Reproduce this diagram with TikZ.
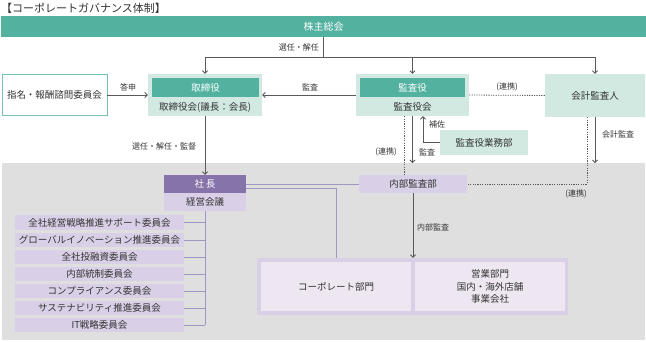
\documentclass[tikz,border=0pt]{standalone}
\usepackage{fontspec}
\setmainfont{Noto Sans CJK JP}
\usetikzlibrary{arrows.meta}
\definecolor{tealA}{HTML}{52B19F}
\definecolor{tealL}{HTML}{D1E9E1}
\definecolor{purA}{HTML}{8573A9}
\definecolor{purL}{HTML}{D9CFE6}
\definecolor{purVL}{HTML}{EEE7F2}
\definecolor{grayBG}{HTML}{DFDFDF}
\definecolor{tc}{HTML}{333333}
\definecolor{lc}{HTML}{595959}
\definecolor{lavc}{HTML}{A196C2}
\begin{document}
\begin{tikzpicture}[x=1pt,y=-1pt,
  lab/.style={text=tc, font=\fontsize{8}{8}\selectfont, inner sep=0pt},
  bx/.style={inner sep=0pt, text=tc, font=\fontsize{9.5}{12}\selectfont, align=center},
  ln/.style={draw=lc, line width=0.8pt},
  arr/.style={ln, -{Straight Barb[length=2.5pt,width=5pt]}},
  dt/.style={draw=lc, line width=0.8pt, dash pattern=on 1.2pt off 1.2pt},
  lav/.style={draw=lavc, line width=1pt},
]
\useasboundingbox (0,0) rectangle (646,341);
\fill[white] (0,0) rectangle (646,341);
% gray background area
\fill[grayBG] (2,163) rectangle (645,340);

% title
\node[anchor=west, inner sep=0pt, text=tc, font=\fontsize{11}{11}\selectfont] (title) at (1,8) {【コーポレートガバナンス体制】};

% top bar
\node[bx, fill=tealA, text=white, font=\fontsize{10}{12}\selectfont, minimum width=645pt, minimum height=21pt] (sh) at (323.5,26.5) {株主総会};

% left advisory committee
\node[bx, fill=white, draw=tealA!80, line width=0.8pt, minimum width=105pt, minimum height=41pt] (nom) at (54.5,95) {指名・報酬諮問委員会};

% board of directors
\node[bx, fill=tealL, minimum width=114pt, minimum height=42pt] (torio) at (205,95) {};
\node[bx, fill=tealA, text=white, minimum width=107pt, minimum height=19pt] (torih) at (205.5,87.5) {取締役};
\node[bx] (torit) at (205,107) {取締役会(議長：会長)};

% audit & supervisory board
\node[bx, fill=tealL, minimum width=113pt, minimum height=42pt] (kano) at (412.5,95) {};
\node[bx, fill=tealA, text=white, minimum width=105pt, minimum height=19pt] (kanh) at (412.5,87.5) {監査役};
\node[bx] (kant) at (412.5,107) {監査役会};

% accounting auditor
\node[bx, fill=tealL, minimum width=100pt, minimum height=43pt] (kai) at (595,95.5) {会計監査人};

% office of audit
\node[bx, fill=tealL, minimum width=88pt, minimum height=25pt] (gyomu) at (484,142.5) {監査役業務部};

% internal audit
\node[bx, fill=purL, minimum width=108pt, minimum height=18pt] (naibu) at (413,184) {内部監査部};

% president
\node[bx, fill=purA, text=white, minimum width=82pt, minimum height=18pt] (shacho) at (205,184) {社\,長};
\node[bx, fill=purL, minimum width=82pt, minimum height=18pt] (keiei) at (205,202) {経営会議};

% committees
\foreach \i/\y/\t in {1/222.5/全社経営戦略推進サポート委員会,
                      2/240/グローバルイノベーション推進委員会,
                      3/257/全社投融資委員会,
                      4/274/内部統制委員会,
                      5/291/コンプライアンス委員会,
                      6/308/サステナビリティ推進委員会,
                      7/325/IT戦略委員会}
  \node[bx, fill=purL, minimum width=169pt, minimum height=14.5pt] (c\i) at (99.5,\y) {\t};

% divisions
\node[fill=purL, inner sep=0pt, minimum width=311pt, minimum height=57pt] (frame) at (412.5,286.5) {};
\node[bx, fill=purVL, minimum width=150pt, minimum height=49pt] (corp) at (336,286.5) {コーポレート部門};
\node[bx, fill=purVL, minimum width=150pt, minimum height=49pt, font=\fontsize{9.5}{12.5}\selectfont] (eigyo) at (490,286.5) {営業部門\\国内・海外店舗\\事業会社};

% ---------- connectors ----------
\coordinate (jy) at (0,57);
\coordinate (j) at (sh.south |- jy);
\draw[ln] (sh.south) -- (j);
\draw[arr] (j) -| (torio.north);
\draw[arr] (j) -| (kai.north);
\draw[arr] (kano.north |- j) -- (kano.north);
\node[lab, anchor=east] (l1) at (319,47) {選任・解任};

\draw[arr] (nom.east) -- (torio.west);
\node[lab] (l2) at (128,87) {答申};

\draw[arr] (kano.west) -- (torio.east);
\node[lab] (l3) at (310,87) {監査};

\draw[dt] (kano.east) -- (kai.west);
\node[lab] (l4) at (507,87) {(連携)};

\draw[arr] (torio.south) -- (shacho.north);
\node[lab] (l5) at (164,146) {選任・解任・監督};

% audit board downward
\coordinate (dx) at (404,0);
\draw[dt] (kano.south -| dx) -- (naibu.north -| dx);
\node[lab] (l6) at (386,152) {(連携)};
\coordinate (kend) at (412.5,163);
\draw[arr] (kano.south -| kend) -- (kend);
\node[lab] (l7) at (427,152) {監査};
\coordinate (hx) at (423,0);
\draw[arr] (gyomu.west) -| (kano.south -| hx);
\node[lab] (l8) at (437,124) {補佐};

% accounting auditor downward
\coordinate (dx2) at (587,0);
\draw[dt] (kai.south -| dx2) |- (naibu.east);
\coordinate (aend) at (595,163);
\draw[arr] (kai.south -| aend) -- (aend);
\node[lab] (l9) at (618,134) {会計監査};
\node[lab] (l10) at (576,194) {(連携)};

% president links
\draw[lav] (shacho.east) -- (naibu.west);
\coordinate (ct) at (corp.north |- frame.north);
\draw[lav] ([yshift=-4pt]shacho.east) -| (ct);

% committees tree
\draw[lav] (keiei.south) -- (keiei.south |- c7.east);
\foreach \i in {1,...,7}
  \draw[lav] (c\i.east) -- (c\i.east -| keiei.south);

% internal audit arrow
\draw[arr] (naibu.south) -- (naibu.south |- frame.north);
\node[lab, anchor=west] (l11) at (417,227) {内部監査};
\end{tikzpicture}
\end{document}
